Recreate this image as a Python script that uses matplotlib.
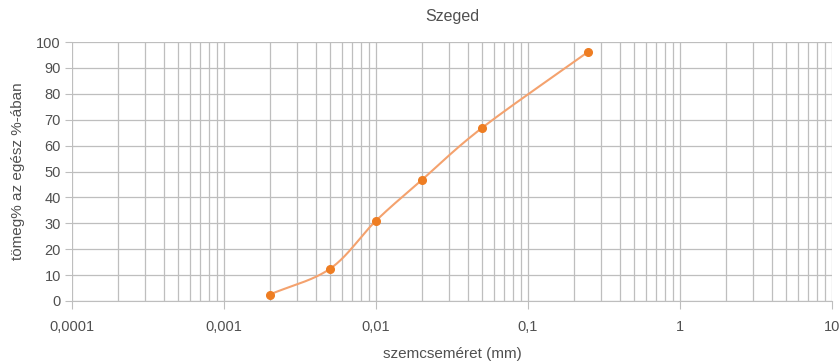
import numpy as np
import matplotlib
matplotlib.use("Agg")
import matplotlib.pyplot as plt
from matplotlib.ticker import LogLocator, FixedLocator, FuncFormatter

# ---- ADATOK ----
szemcse_mm = [0.002, 0.005, 0.01, 0.02, 0.05, 0.25]
tomeg_szazalek = [2.5, 12.5, 31, 46.7, 66.9, 96.3]

cim = "Szeged"
x_cim = "szemcseméret (mm)"
y_cim = "tömeg% az egész %-ában"

plt.rcParams['font.family'] = ['Liberation Sans', 'DejaVu Sans']
szurke = '#505050'
racs = '#BEBEBE'


def simitott(xs, ys, n=40):
    # Excel-szerű simított vonal (Catmull-Rom, log x-ben)
    lx = np.log10(xs)
    y = np.asarray(ys, float)
    px = np.concatenate([[2 * lx[0] - lx[1]], lx, [2 * lx[-1] - lx[-2]]])
    py = np.concatenate([[2 * y[0] - y[1]], y, [2 * y[-1] - y[-2]]])
    ox, oy = [], []
    t = np.linspace(0, 1, n)
    for i in range(1, len(px) - 2):
        for p, out in ((px, ox), (py, oy)):
            p0, p1, p2, p3 = p[i - 1], p[i], p[i + 1], p[i + 2]
            out.extend(0.5 * ((2 * p1) + (-p0 + p2) * t
                              + (2 * p0 - 5 * p1 + 4 * p2 - p3) * t ** 2
                              + (-p0 + 3 * p1 - 3 * p2 + p3) * t ** 3))
    return 10 ** np.array(ox), np.array(oy)


fig = plt.figure(figsize=(8.4, 3.61), dpi=100)
ax = fig.add_axes([72 / 840, 1 - 301 / 361, 760 / 840, 259 / 361])

sx, sy = simitott(szemcse_mm, tomeg_szazalek)
ax.plot(sx, sy, color='#F4A26E', linewidth=1.5, zorder=3)
ax.plot(szemcse_mm, tomeg_szazalek, 'o', color='#EE7D22', markersize=5.5, zorder=4)

ax.set_xscale('log')
ax.set_xlim(0.0001, 10)
ax.set_ylim(0, 100)
ax.xaxis.set_major_locator(LogLocator(base=10, numticks=10))
ax.xaxis.set_minor_locator(LogLocator(base=10, subs=np.arange(2, 10), numticks=20))
ax.xaxis.set_major_formatter(FuncFormatter(lambda v, _: f"{v:g}".replace('.', ',')))
ax.xaxis.set_minor_formatter(FuncFormatter(lambda v, _: ""))
ax.yaxis.set_major_locator(FixedLocator(range(0, 101, 10)))

ax.grid(True, which='both', color=racs, linewidth=0.9)
ax.set_axisbelow(True)
for s in ['top', 'right']:
    ax.spines[s].set_visible(False)
ax.spines['left'].set_visible(False)
ax.spines['bottom'].set_color(racs)
ax.tick_params(axis='x', which='major', length=6, color=racs, labelsize=10.5,
               labelcolor=szurke, pad=8)
ax.tick_params(axis='x', which='minor', length=0)
ax.tick_params(axis='y', length=5, color=racs, labelsize=10.5, labelcolor=szurke, pad=3)

ax.set_title(cim, fontsize=11.5, color=szurke, pad=15)
ax.set_xlabel(x_cim, fontsize=11, color=szurke, labelpad=9)
ax.set_ylabel(y_cim, fontsize=11, color=szurke, labelpad=8)

fig.savefig("out.png", dpi=100)
